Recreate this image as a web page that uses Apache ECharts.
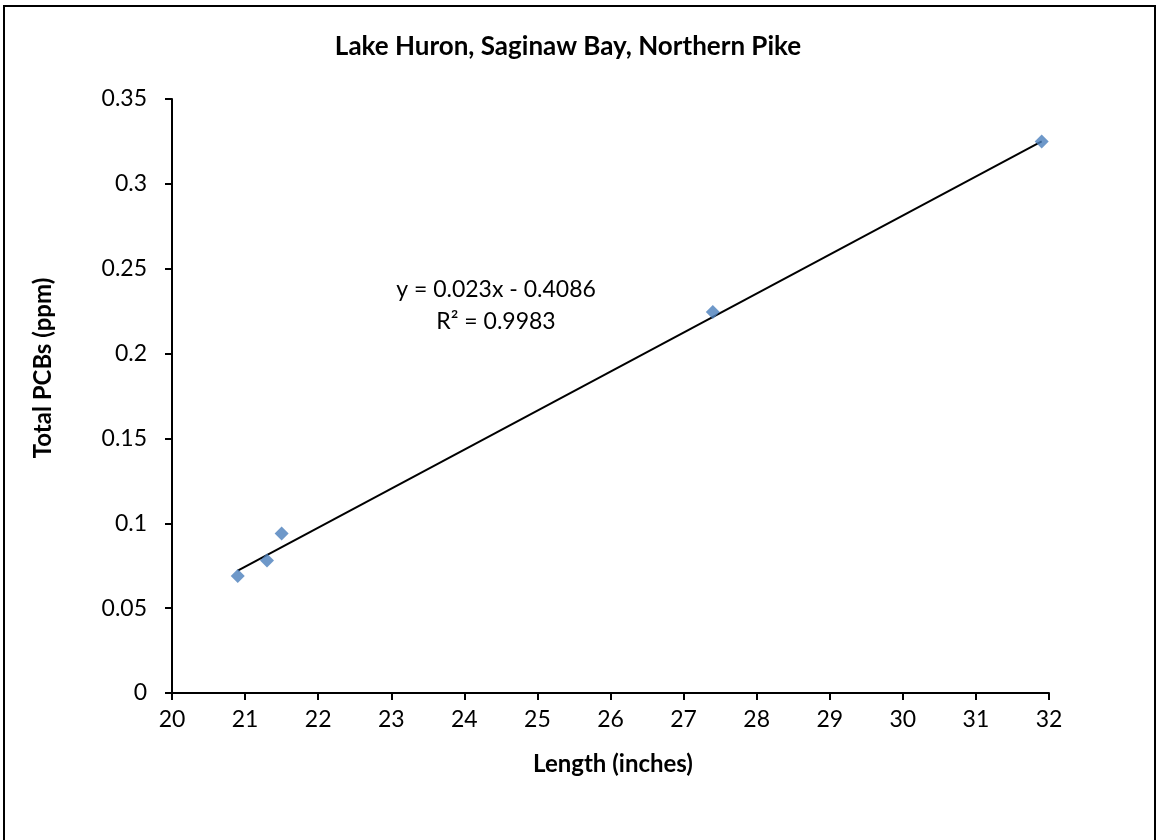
<!DOCTYPE html>
<html><head><meta charset="utf-8">
<script src="https://cdn.jsdelivr.net/npm/echarts@6/dist/echarts.min.js"></script>
<style>html,body{margin:0;padding:0;background:#fff}#c{width:1156px;height:840px}</style>
</head><body><div id="c"></div>
<script>
const title = 'Lake Huron, Saginaw Bay, Northern Pike';
const xName = 'Length (inches)';
const yName = 'Total PCBs (ppm)';
const lengths = [20.9, 21.3, 21.5, 27.4, 31.9];
const pcbs = [0.069, 0.078, 0.094, 0.2245, 0.325];
const slope = 0.023, intercept = -0.4086;
const eqLines = ['y = 0.023x - 0.4086', 'R² = 0.9983'];
const xMin = 20, xMax = 32, xStep = 1;
const yMin = 0, yMax = 0.35, yStep = 0.05;

const pts = lengths.map((x, i) => [x, pcbs[i]]);
const xs0 = Math.min(...lengths), xs1 = Math.max(...lengths);
const trend = [[xs0, slope * xs0 + intercept], [xs1, slope * xs1 + intercept]];
const font = 'Lato, "Open Sans", sans-serif';

const chart = echarts.init(document.getElementById('c'));
chart.setOption({
  animation: false,
  backgroundColor: '#fff',
  grid: { left: 172, right: 107, top: 99, bottom: 147 },
  xAxis: {
    type: 'value', min: xMin, max: xMax, interval: xStep,
    axisLine: { show: true, onZero: false, lineStyle: { color: '#000', width: 2 } },
    axisTick: { show: true, length: 7, lineStyle: { color: '#000', width: 2 } },
    axisLabel: { fontFamily: font, fontSize: 23, color: '#000', margin: 15 },
    splitLine: { show: false }
  },
  yAxis: {
    type: 'value', min: yMin, max: yMax, interval: yStep,
    axisLine: { show: true, lineStyle: { color: '#000', width: 2 } },
    axisTick: { show: true, length: 7, lineStyle: { color: '#000', width: 2 } },
    axisLabel: { fontFamily: font, fontSize: 23, color: '#000', margin: 25,
      formatter: v => String(+v.toFixed(2)) },
    splitLine: { show: false }
  },
  series: [
    { type: 'line', data: trend, symbol: 'none', silent: true,
      lineStyle: { color: '#000', width: 2 }, z: 2 },
    { type: 'scatter', data: pts, symbol: 'diamond', symbolSize: 14,
      itemStyle: { color: '#4A7EBB' }, z: 3 }
  ],
  graphic: [
    { type: 'rect', shape: { x: 4, y: 6, width: 1151, height: 840 },
      style: { fill: 'none', stroke: '#000', lineWidth: 2 }, silent: true },
    { type: 'text', x: 568, y: 47,
      style: { text: title, font: 'bold 26px ' + font, fill: '#000', align: 'center', verticalAlign: 'middle' } },
    { type: 'text', x: 613, y: 764,
      style: { text: xName, font: 'bold 24px ' + font, fill: '#000', align: 'center', verticalAlign: 'middle' } },
    { type: 'text', x: 43, y: 368, rotation: Math.PI / 2,
      style: { text: yName, font: 'bold 24px ' + font, fill: '#000', align: 'center', verticalAlign: 'middle' } },
    { type: 'text', x: 496, y: 290,
      style: { text: eqLines[0], font: '23px ' + font, fill: '#000', align: 'center', verticalAlign: 'middle' } },
    { type: 'text', x: 496, y: 322,
      style: { text: eqLines[1], font: '23px ' + font, fill: '#000', align: 'center', verticalAlign: 'middle' } }
  ]
});
</script></body></html>
